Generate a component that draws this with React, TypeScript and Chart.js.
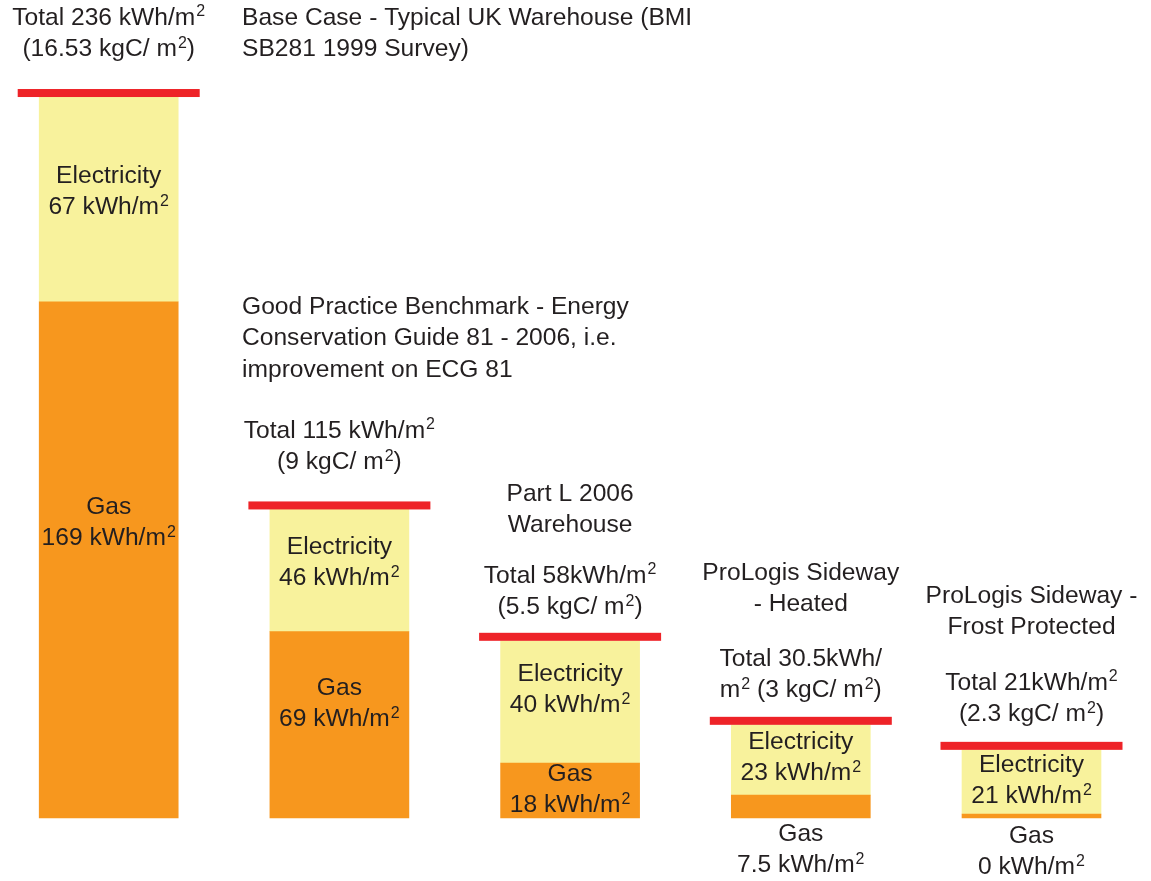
import React, { useEffect, useRef } from 'react';
import { Chart, registerables } from 'chart.js';

Chart.register(...registerables);

// ---------------- data ----------------
const categories = [
  'Base Case',
  'Good Practice Benchmark',
  'Part L 2006 Warehouse',
  'ProLogis Sideway - Heated',
  'ProLogis Sideway - Frost Protected',
];
// drawn segment heights (kWh/m²)
const gasValues = [169, 61, 18, 7.5, 0];
const electricityValues = [67, 40, 40, 23, 21];

const titleLines = [
  ['Base Case - Typical UK Warehouse (BMI', 'SB281 1999 Survey)'],
  ['Good Practice Benchmark - Energy', 'Conservation Guide 81 - 2006, i.e.', 'improvement on ECG 81'],
  ['Part L 2006', 'Warehouse'],
  ['ProLogis Sideway', '- Heated'],
  ['ProLogis Sideway -', 'Frost Protected'],
];
const totalLines = [
  ['Total 236 kWh/m²', '(16.53 kgC/ m²)'],
  ['Total 115 kWh/m²', '(9 kgC/ m²)'],
  ['Total 58kWh/m²', '(5.5 kgC/ m²)'],
  ['Total 30.5kWh/', 'm² (3 kgC/ m²)'],
  ['Total 21kWh/m²', '(2.3 kgC/ m²)'],
];
const electricityLabels = ['67 kWh/m²', '46 kWh/m²', '40 kWh/m²', '23 kWh/m²', '21 kWh/m²'];
const gasLabels = ['169 kWh/m²', '69 kWh/m²', '18 kWh/m²', '7.5 kWh/m²', '0 kWh/m²'];

// ---------------- layout / style ----------------
const W = 1151;
const H = 881;
const RED = '#EE2328';
const YELLOW = '#F8F29C';
const ORANGE = '#F7971E';
const TEXT = '#231F20';
const FAMILY = '"Liberation Sans", Arial, sans-serif';
const FONT = '24.6px ' + FAMILY;
const SUP_FONT = '16px ' + FAMILY;
const LINE_H = 31.5;

// y (centre of first line) for each text block, per bar
const titleY = [18, 307, 494, 573, 596];
const titleLeftX = [242, 242, null, null, null];
const totalY = [18, 431, 576, 659, 683];
const elecY = [176, 547, 674, 742, 765];
const gasY = [507, 688, 774, 834, 836];

function drawRich(ctx: CanvasRenderingContext2D, text: string, x: number, y: number, align: 'left' | 'center') {
  const parts = text.split('²');
  const pieces: { t: string; sup: boolean; w: number }[] = [];
  parts.forEach((p, k) => {
    if (p) {
      ctx.font = FONT;
      pieces.push({ t: p, sup: false, w: ctx.measureText(p).width });
    }
    if (k < parts.length - 1) {
      ctx.font = SUP_FONT;
      pieces.push({ t: '2', sup: true, w: ctx.measureText('2').width + 1 });
    }
  });
  const total = pieces.reduce((s, p) => s + p.w, 0);
  let cx = align === 'center' ? x - total / 2 : x;
  ctx.textAlign = 'left';
  pieces.forEach((p) => {
    ctx.font = p.sup ? SUP_FONT : FONT;
    ctx.fillText(p.t, p.sup ? cx + 1 : cx, p.sup ? y - 6 : y);
    cx += p.w;
  });
}

const annotatePlugin = {
  id: 'annotate',
  afterDatasetsDraw(chart: any) {
    const ctx = chart.ctx as CanvasRenderingContext2D;
    const elecMeta = chart.getDatasetMeta(1);
    const xs = chart.scales.x;
    ctx.save();
    // red total markers sitting on top of each stacked bar
    ctx.fillStyle = RED;
    elecMeta.data.forEach((bar: any) => {
      ctx.fillRect(bar.x - 91, bar.y - 8, 182, 8);
    });

    ctx.fillStyle = TEXT;
    ctx.textBaseline = 'middle';
    const block = (lines: string[], x: number, y: number, align: 'left' | 'center') => {
      lines.forEach((t, k) => drawRich(ctx, t, x, y + k * LINE_H, align));
    };
    categories.forEach((_, i) => {
      const cx = xs.getPixelForValue(i);
      const lx = titleLeftX[i];
      if (lx != null) block(titleLines[i], lx, titleY[i], 'left');
      else block(titleLines[i], cx, titleY[i], 'center');
      block(totalLines[i], cx, totalY[i], 'center');
      block(['Electricity', electricityLabels[i]], cx, elecY[i], 'center');
      block(['Gas', gasLabels[i]], cx, gasY[i], 'center');
    });
    ctx.restore();
  },
};

export default function App() {
  const ref = useRef<HTMLCanvasElement | null>(null);

  useEffect(() => {
    if (!ref.current) return;
    const chart = new Chart(ref.current, {
      type: 'bar',
      data: {
        labels: categories,
        datasets: [
          {
            label: 'Gas',
            data: gasValues,
            backgroundColor: ORANGE,
            borderWidth: 0,
            barThickness: 139,
            minBarLength: 4,
            clip: false as any,
          },
          {
            label: 'Electricity',
            data: electricityValues,
            backgroundColor: YELLOW,
            borderWidth: 0,
            barThickness: 139,
            clip: false as any,
          },
        ],
      },
      options: {
        responsive: false,
        animation: false,
        layout: { padding: { left: 108.7, right: 119.5, top: 54.25, bottom: 63 } },
        scales: {
          x: { stacked: true, offset: false, display: false, grid: { display: false } },
          y: { stacked: true, min: 0, max: 250, display: false, grid: { display: false } },
        },
        plugins: {
          legend: { display: false },
          tooltip: { enabled: false },
          title: { display: false },
        },
      },
      plugins: [annotatePlugin],
    });
    return () => chart.destroy();
  }, []);

  return (
    <div style={{ position: 'fixed', left: 0, top: 0, width: W, height: H, background: '#fff' }}>
      <canvas ref={ref} width={W} height={H} style={{ display: 'block' }} />
    </div>
  );
}
